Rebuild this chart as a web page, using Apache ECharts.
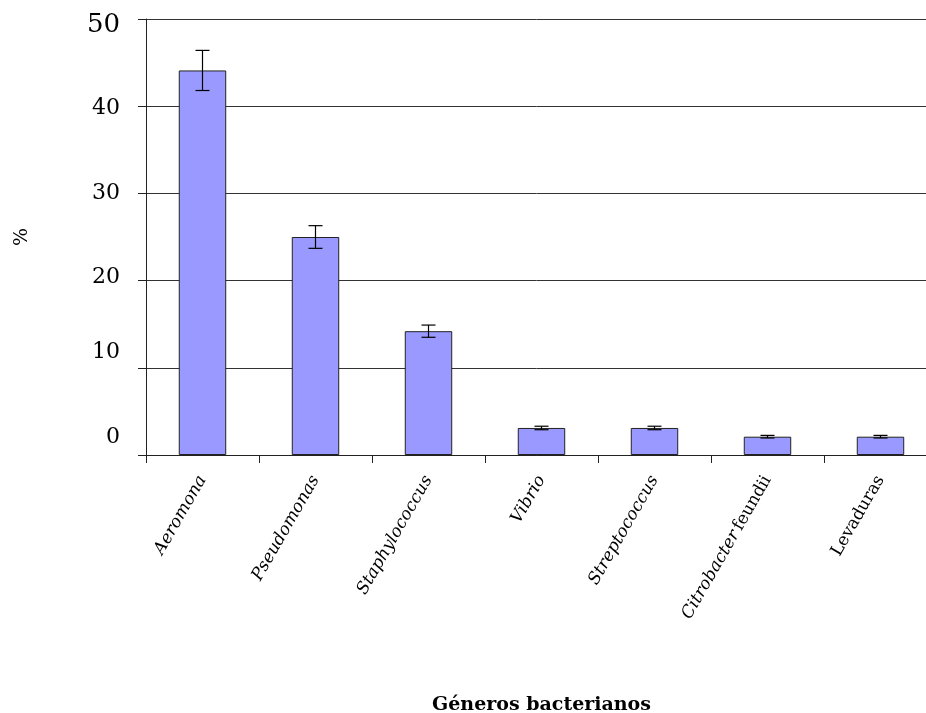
<!DOCTYPE html>
<html>
<head>
<meta charset="utf-8">
<script src="https://cdn.jsdelivr.net/npm/echarts@6/dist/echarts.min.js"></script>
<style>
  html, body { margin: 0; padding: 0; background: #fff; }
  #chart { width: 926px; height: 713px; }
</style>
</head>
<body>
<div id="chart"></div>
<script>
// datos
const generos = ['Aeromona', 'Pseudomonas', 'Staphylococcus', 'Vibrio', 'Streptococcus', 'Citrobacter feundii', 'Levaduras']
const porcentajes = [44.1, 25.0, 14.2, 3.1, 3.1, 2.1, 2.1]
const errores = [2.3, 1.3, 0.7, 0.2, 0.2, 0.15, 0.15]
const yTicks = [0, 10, 20, 30, 40, 50]

const chart = echarts.init(document.getElementById('chart'))

// etiquetas: cursiva salvo las palabras que van en redonda
const labelFmt = (val) => {
  if (val === 'Citrobacter feundii') return '{i|Citrobacter} {n|feundii}'
  if (val === 'Levaduras') return '{n|Levaduras}'
  return '{i|' + val + '}'
}

// las etiquetas del eje y no quedan centradas igual en el original
const yLabelStyle = { 0: 'a', 10: 'b', 20: 'c', 30: 'd', 40: 'e', 50: 'f' }
const serif = 'DejaVu Serif'
const yRich = {
  a: { fontFamily: serif, fontSize: 22, color: '#000', padding: [0, 0, 36, 0] },
  b: { fontFamily: serif, fontSize: 22, color: '#000', padding: [0, 0, 32, 0] },
  c: { fontFamily: serif, fontSize: 22, color: '#000', padding: [0, 0, 6, 0] },
  d: { fontFamily: serif, fontSize: 22, color: '#000' },
  e: { fontFamily: serif, fontSize: 22, color: '#000', padding: [4, 0, 0, 0] },
  f: { fontFamily: serif, fontSize: 26, color: '#000', padding: [12, 0, 0, 0] }
}

const option = {
  animation: false,
  grid: { left: 146, right: -11, top: 19, bottom: 258, outerBoundsMode: 'none' },
  xAxis: {
    type: 'category',
    data: generos,
    name: 'Géneros bacterianos',
    nameLocation: 'middle',
    nameGap: 241,
    nameTextStyle: { fontFamily: serif, fontWeight: 'bold', fontSize: 19, color: '#000' },
    axisLine: { lineStyle: { color: '#222', width: 1 } },
    axisTick: { show: true, length: 8, lineStyle: { color: '#222' } },
    axisLabel: {
      rotate: 60,
      margin: 22,
      interval: 0,
      formatter: labelFmt,
      rich: {
        i: { fontFamily: serif, fontStyle: 'italic', fontSize: 17, color: '#000' },
        n: { fontFamily: serif, fontSize: 17, color: '#000' }
      }
    }
  },
  yAxis: {
    type: 'value',
    min: 0,
    max: 50,
    interval: 10,
    name: '%',
    nameLocation: 'middle',
    nameGap: 114,
    nameRotate: 90,
    nameTextStyle: { fontFamily: serif, fontSize: 19, color: '#000' },
    axisLine: { show: true, lineStyle: { color: '#222', width: 1 } },
    axisTick: { show: true, length: 8, lineStyle: { color: '#222' } },
    splitLine: { show: true, lineStyle: { color: '#333', width: 1 } },
    axisLabel: {
      margin: 26,
      formatter: (v) => yTicks.includes(v) ? '{' + yLabelStyle[v] + '|' + v + '}' : '',
      rich: yRich
    }
  },
  series: [
    {
      type: 'bar',
      data: porcentajes,
      barWidth: '42%',
      itemStyle: { color: '#9999ff', borderColor: '#222', borderWidth: 1 }
    },
    {
      type: 'custom',
      data: porcentajes.map((v, i) => [i, v - errores[i], v + errores[i]]),
      z: 10,
      renderItem: (params, api) => {
        const lo = api.coord([api.value(0), api.value(1)])
        const hi = api.coord([api.value(0), api.value(2)])
        const half = 7
        const style = { stroke: '#000', lineWidth: 1.2 }
        return {
          type: 'group',
          children: [
            { type: 'line', shape: { x1: hi[0], y1: hi[1], x2: lo[0], y2: lo[1] }, style },
            { type: 'line', shape: { x1: hi[0] - half, y1: hi[1], x2: hi[0] + half, y2: hi[1] }, style },
            { type: 'line', shape: { x1: lo[0] - half, y1: lo[1], x2: lo[0] + half, y2: lo[1] }, style }
          ]
        }
      }
    }
  ]
}

chart.setOption(option)
</script>
</body>
</html>
